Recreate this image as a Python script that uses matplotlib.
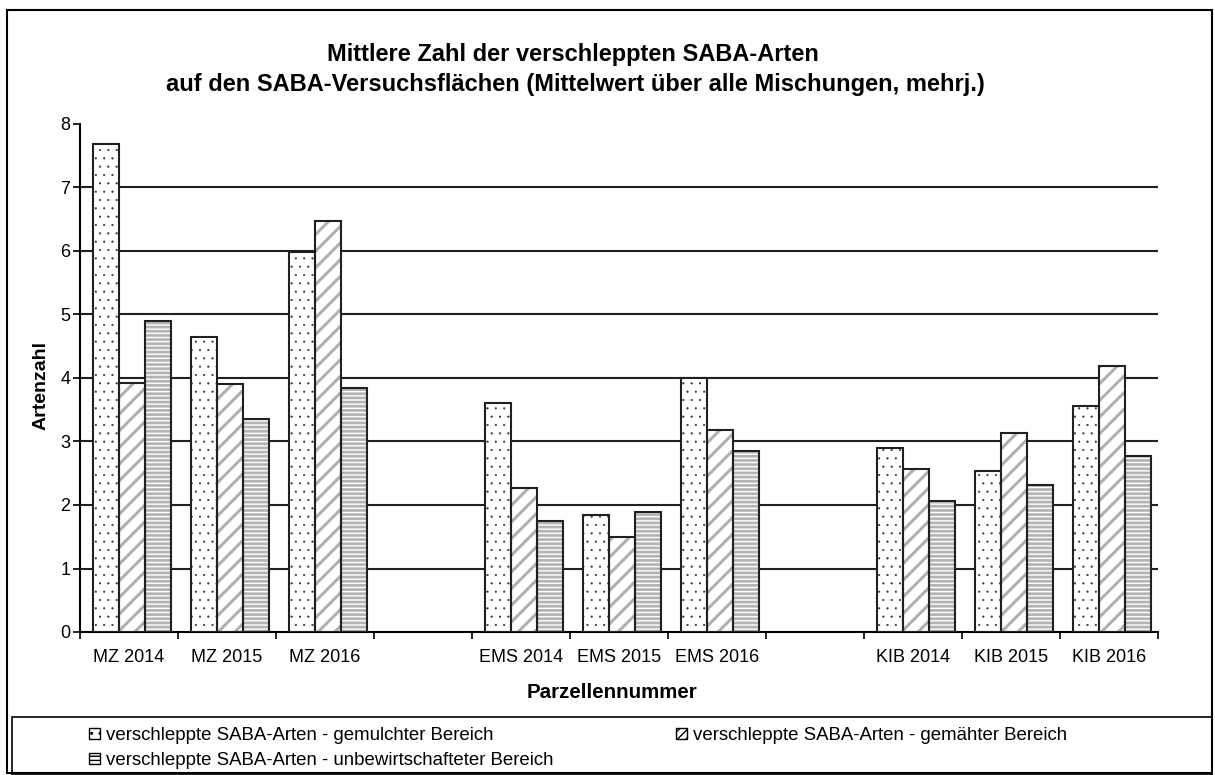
import numpy as np
import matplotlib
matplotlib.use('Agg')
import matplotlib.pyplot as plt
from matplotlib.patches import Patch, Rectangle

plt.rcParams['font.family'] = ['Liberation Sans', 'DejaVu Sans']

# Daten
parzellen = ['MZ 2014', 'MZ 2015', 'MZ 2016', '',
             'EMS 2014', 'EMS 2015', 'EMS 2016', '',
             'KIB 2014', 'KIB 2015', 'KIB 2016']
gemulcht = [7.69, 4.64, 5.98, np.nan, 3.61, 1.84, 4.0, np.nan, 2.89, 2.54, 3.56]
gemaeht = [3.92, 3.90, 6.48, np.nan, 2.27, 1.49, 3.18, np.nan, 2.57, 3.13, 4.19]
unbewirtschaftet = [4.90, 3.35, 3.85, np.nan, 1.75, 1.89, 2.85, np.nan, 2.06, 2.32, 2.77]
namen = ['verschleppte SABA-Arten - gemulchter Bereich',
         'verschleppte SABA-Arten - gemähter Bereich',
         'verschleppte SABA-Arten - unbewirtschafteter Bereich']

fig = plt.figure(figsize=(12.15, 7.75), dpi=100)
ax = fig.add_axes([80/1215, 1-632/775, (1158-80)/1215, (632-124)/775])

x = np.arange(len(parzellen)) + 0.03
w = 0.265

# gemulcht: schwarze Punkte
with plt.rc_context({'hatch.linewidth': 0.3}):
    ax.bar(x - w, gemulcht, w, color='white', edgecolor='#303030', hatch='..', linewidth=0, zorder=2)
# gemaeht: graue Diagonalen
with plt.rc_context({'hatch.linewidth': 2.2}):
    ax.bar(x, gemaeht, w, color='white', edgecolor='#b0b0b0', hatch='//', linewidth=0, zorder=2)
# unbewirtschaftet: graue Querstreifen
with plt.rc_context({'hatch.linewidth': 2.0}):
    ax.bar(x + w, unbewirtschaftet, w, color='white', edgecolor='#b4b4b4', hatch='----', linewidth=0, zorder=2)
# Rahmen der Balken
for off, vals in [(-w, gemulcht), (0, gemaeht), (w, unbewirtschaftet)]:
    ax.bar(x + off, vals, w, fill=False, edgecolor='#202020', linewidth=1.5, zorder=3)

ax.set_xlim(-0.5, len(parzellen) - 0.5)
ax.set_ylim(0, 8)
ax.set_yticks(range(0, 9))
for v in range(1, 8):
    ax.axhline(v, color='#202020', linewidth=1.5, zorder=1)

ax.set_xticks(np.arange(len(parzellen)))
ax.set_xticklabels(parzellen, fontsize=13)
ax.set_xticks(np.arange(-0.5, len(parzellen)), minor=True)
ax.tick_params(axis='x', which='major', length=0, pad=12)
ax.tick_params(axis='x', which='minor', length=5, width=1.2, direction='out')
ax.tick_params(axis='y', length=5, width=1.2, labelsize=13, pad=2)

for s in ['top', 'right']:
    ax.spines[s].set_visible(False)
ax.spines['left'].set_linewidth(1.5)
ax.spines['bottom'].set_linewidth(1.5)

fig.text(41/1215, 1-385/775, 'Artenzahl', fontsize=14, fontweight='bold', rotation=90,
         ha='center', va='center')
fig.text(612/1215, 1-692/775, 'Parzellennummer', fontsize=14.8, fontweight='bold', ha='center', va='center')

fig.text(573/1215, 1-55/775, 'Mittlere Zahl der verschleppten SABA-Arten', fontsize=17,
         fontweight='bold', ha='center', va='center')
fig.text(575/1215, 1-85/775, 'auf den SABA-Versuchsflächen (Mittelwert über alle Mischungen, mehrj.)',
         fontsize=17, fontweight='bold', ha='center', va='center')

# Legende
handles = [Patch(facecolor='white', edgecolor='black', hatch='..'),
           Patch(facecolor='white', edgecolor='black', hatch='////'),
           Patch(facecolor='white', edgecolor='black', hatch='----')]
order = [0, 2, 1]
fig.legend([handles[i] for i in order], [namen[i] for i in order], ncol=2,
           loc='upper left', bbox_to_anchor=(80/1215, 1-718/775), frameon=False,
           fontsize=13.4, handlelength=0.55, handleheight=0.55, handletextpad=0.35,
           columnspacing=6.6, labelspacing=0.4, borderpad=0)

fig.patches.append(Rectangle((12/1215, 0), 1200/1215, 58/775, transform=fig.transFigure,
                             fill=False, edgecolor='black', linewidth=1.2))
fig.patches.append(Rectangle((7/1215, 2/775), 1205/1215, 763/775, transform=fig.transFigure,
                             fill=False, edgecolor='black', linewidth=1.5))

fig.savefig('out.png', dpi=100)
